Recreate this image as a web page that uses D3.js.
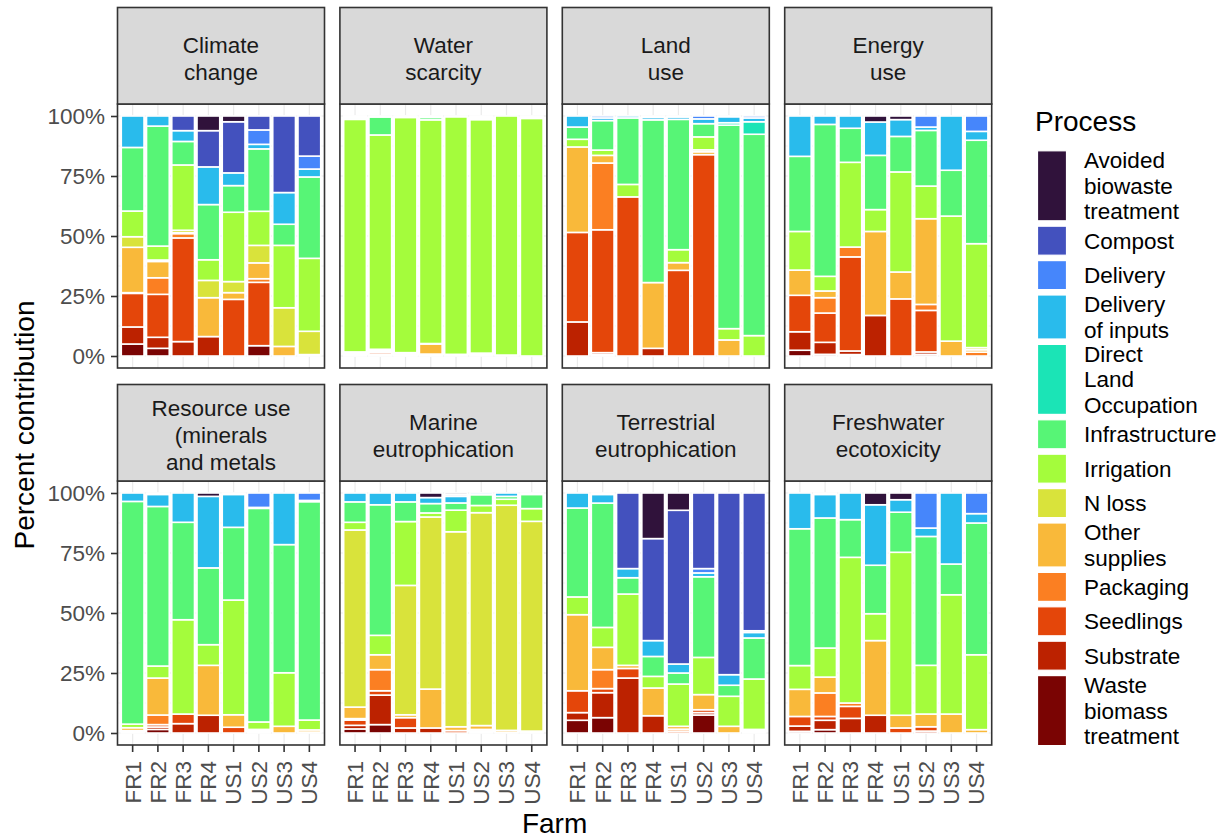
<!DOCTYPE html>
<html><head><meta charset="utf-8">
<script src="https://cdn.jsdelivr.net/npm/d3@7"></script>
<style>body{margin:0;background:#fff;} svg{display:block;font-family:"Liberation Sans",Arial,sans-serif;}</style>
</head><body><svg id="chart" width="1231" height="840"></svg>
<script>
// ---------------- data ----------------
const farms = ["FR1","FR2","FR3","FR4","US1","US2","US3","US4"];
const processes = ["Avoided biowaste treatment","Compost","Delivery","Delivery of inputs","Direct Land Occupation","Infrastructure","Irrigation","N loss","Other supplies","Packaging","Seedlings","Substrate","Waste biomass treatment"];
const processLabels = [["Avoided","biowaste","treatment"],["Compost"],["Delivery"],["Delivery","of inputs"],["Direct","Land","Occupation"],["Infrastructure"],["Irrigation"],["N loss"],["Other","supplies"],["Packaging"],["Seedlings"],["Substrate"],["Waste","biomass","treatment"]];
const processColors = ["#30123B","#4351BE","#4686FB","#29BBEC","#1BE4B6","#57F576","#A4FC3C","#D9E33B","#F9B93A","#FB7F22","#E4460A","#BC2200","#7A0403"];
const impacts = ["Climate change","Water scarcity","Land use","Energy use","Resource use (minerals and metals","Marine eutrophication","Terrestrial eutrophication","Freshwater ecotoxicity"];
const impactLabels = [["Climate","change"],["Water","scarcity"],["Land","use"],["Energy","use"],["Resource use","(minerals","and metals"],["Marine","eutrophication"],["Terrestrial","eutrophication"],["Freshwater","ecotoxicity"]];
const yTicks = [0, 0.25, 0.5, 0.75, 1];
const yTickLabels = ["0%","25%","50%","75%","100%"];
const yMinor = [0.125, 0.375, 0.625, 0.875];

// shares (%) per farm; columns from bottom of the bar to top:
// Waste biomass, Substrate, Seedlings, Packaging, Other supplies, N loss, Irrigation,
// Infrastructure, Direct Land Occ., Delivery of inputs, Delivery, Compost, Avoided biowaste
const climateChange = [
 [5,7.1,14,0.3,18.9,4.4,10.7,26.5,0,13.1,0,0,0],
 [3.2,4.6,17.9,6.9,6.8,0.6,5.8,50,0,4.2,0,0,0],
 [0,6,43.2,1.8,0.4,1.0,27.2,9.8,0,4.5,0,6.1,0],
 [0,8.1,0,0,16.2,7.2,8.6,23,0,15.7,0,15.1,6.1],
 [0,0,23.6,0,2.8,4.6,28.9,11.1,0,5.3,0,21.3,2.4],
 [4.3,0,26.4,1.5,6.6,7.3,14.2,26,0,1.9,6,5.8,0],
 [0,0,0,0,4,16.1,26,8.8,0,13.2,0,31.9,0],
 [0,0,0,0,0.6,9.7,30.4,33.9,0,3.3,5.4,16.7,0]
];
const waterScarcity = [
 [0.2,0.3,0.4,0.3,0.3,0.2,96.9,0.5,0,0.4,0.3,0.2,0],
 [0.2,0.4,0.8,0.4,0.5,0.5,89.3,7.5,0,0.4,0,0,0],
 [0.1,0.2,0.5,0.2,0.2,0.2,98,0.4,0,0.2,0,0,0],
 [0.2,0.3,0.3,0,4.2,0.2,93.2,1,0,0.4,0.2,0,0],
 [0,0,0.3,0,0.4,0,99,0.3,0,0,0,0,0],
 [0,0,0.6,0,0.3,0.3,97.3,0.4,0.6,0.5,0,0,0],
 [0,0,0,0,0.4,0,99.6,0,0,0,0,0,0],
 [0,0,0,0,0,0,99,0.5,0,0.5,0,0,0]
];
const landUse = [
 [0,14.2,37.3,0,35.6,0,3.2,5.1,0,4.6,0,0,0],
 [0.6,0.8,51.2,27.8,3.2,0,2.2,12.3,0,1.1,0.8,0,0],
 [0,0,66.3,0,0,0,5.2,27.7,0,0.8,0,0,0],
 [0,3.2,0,0,27.4,0,0,67.8,0,1.0,0.6,0,0],
 [0,0,35.7,0,3.2,0,5.4,54.3,0,1.0,0.4,0,0],
 [0,0,83.9,0,1.2,0.8,5.4,5.5,0,2.0,1.2,0,0],
 [0,0,0,0,6.7,0,4.7,84.8,1.0,2.5,0.3,0,0],
 [0,0,0,0,0,0,8.5,83.9,5.2,1.6,0.8,0,0]
];
const energyUse = [
 [2.4,7.7,15.2,0,10.5,0,16.1,31.3,0,16.8,0,0,0],
 [0.7,5,12.2,6.4,2.8,0,6.1,63.3,0,3.5,0,0,0],
 [0.6,1.5,39.2,4.1,0,0,35.3,14.2,0,5.1,0,0,0],
 [0,16.9,0,0,35,0,9.1,22.6,0,13.9,0,0,2.5],
 [0,0,23.8,0,11.2,0,41.7,14.8,0,7,0,0,1.5],
 [0.7,1,17.3,2.5,35.7,0,13.6,23.2,0,1.4,4.6,0,0],
 [0,0,0,0,6.2,0,52.1,19.1,0,22.6,0,0,0],
 [0,0,0,1.6,1.0,0.9,43.3,43.1,0,3.7,6.4,0,0]
];
const resourceUse = [
 [0,0.5,0.5,0,1.2,0,1.5,92.8,0,3.5,0,0,0],
 [1.5,1,1,4,15.4,0,5,66.5,0,5,0.6,0,0],
 [0,3.9,4,0,0,0,39.3,40.6,0,12.2,0,0,0],
 [0,7.4,0,0,20.8,0,8.6,32,0,29.8,0,0,1.4],
 [0,0,2.4,0,5.2,0,47.8,30.3,0,13.7,0.6,0,0],
 [0,0.5,0.5,0,0.5,0,3.1,89,0,0.4,6,0,0],
 [0,0,0,0,2.8,0,22.3,53.4,0,21.5,0,0,0],
 [0,0,0.4,0,0.9,0,4.1,91,0,0.5,3.1,0,0]
];
const marineEutrophication = [
 [1.7,1.5,2.2,0.6,4.8,73.8,3.2,8.5,0,3.7,0,0,0],
 [3.5,12.3,1.8,8.8,6.2,0,8.1,54.4,0,4.9,0,0,0],
 [0,2.1,4.3,0,1.2,53.9,26.6,8.2,0,3.7,0,0,0],
 [0,2.1,0,0,16.2,71.7,1.7,3.9,0,2.5,0,0,1.9],
 [0,0,1.0,0,1.6,81.25,9,3,0,2.75,0,0.7,0.7],
 [0,0.6,0.6,0.3,1.6,88.7,3,4.5,0,0.7,0,0,0],
 [0,0,0.3,0,0.8,93.8,2.5,1.2,0,1.4,0,0,0],
 [0,0,0.4,0,0.4,87.4,5.3,5.9,0,0.6,0,0,0]
];
const terrestrialEutrophication = [
 [5.3,3.2,9.1,0,31.7,0,7.4,37.05,0,6.25,0,0,0],
 [6.4,10.4,1.7,7.9,9.3,0,8.3,51.8,0,3.6,0.6,0,0],
 [0,22.9,4,0,1.3,0,29.7,6.8,0,3.8,0,31.5,0],
 [0,7.2,0,0,11.55,0,4.85,8.3,0,6.6,0,42.5,19],
 [0,0,0.8,0.8,1.2,0,17.6,4.6,0,3.75,0,64.05,7.2],
 [7.5,1,1.2,0,6.3,0,15.5,33.6,0,1.6,1.8,31.5,0],
 [0,0,0,0,2.8,0,12.5,4.6,0,4.4,0,75.7,0],
 [0,0,0.5,0,0.5,0.5,21,17.1,0,2.3,0.7,57.4,0]
];
const freshwaterEcotoxicity = [
 [0.7,2.2,4,0,11.3,0,9.9,57,0,14.9,0,0,0],
 [1.4,3.9,1.6,9.8,6.6,0,12.1,54.2,0,9.8,0.6,0,0],
 [0,6.1,5,1.4,0,0,60.7,15.7,0,11.1,0,0,0],
 [0,7.4,0,0,31.1,0,11.2,20.2,0,25.2,0,0,4.9],
 [0,0,2.1,0,5.3,0,67.9,16.7,0,5.2,0,0,2.8],
 [0,0.8,1.8,0,5.3,0,20.3,53.7,0,3.5,14.6,0,0],
 [0,0,0,0,7.9,0,49.7,12.8,0,29.6,0,0,0],
 [0,0,0,0,1.4,0,31.2,54.9,0,3.9,8.6,0,0]
];
const impactValues = [climateChange, waterScarcity, landUse, energyUse, resourceUse, marineEutrophication, terrestrialEutrophication, freshwaterEcotoxicity];

// ---------------- layout ----------------
const stackOrder = processes.slice().reverse();           // bottom → top
const color = d3.scaleOrdinal().domain(processes).range(processColors);
const svg = d3.select("#chart");
const panelLeft = 117.5, panelW = 207, panelPitch = 222.4;
const rowTop = 7.5, rowPitch = 377, stripH = 96.5, plotH = 264;
const smallFont = 22.5, bigFont = 28;
const borderCol = "#333333", gridCol = "#EBEBEB";

const stack = d3.stack().keys(stackOrder).offset(d3.stackOffsetExpand);

impacts.forEach((imp, k) => {
  const r = Math.floor(k / 4), c = k % 4;
  const x0 = panelLeft + c * panelPitch;
  const sTop = rowTop + r * rowPitch;
  const pTop = sTop + stripH;
  const pad = plotH / 1.1 * 0.05;
  const y = d3.scaleLinear().domain([0, 1]).range([pTop + plotH - pad, pTop + pad]);
  const x = d3.scaleBand().domain(farms).range([x0, x0 + panelW]).paddingInner(0.1).paddingOuter(0.15);
  const g = svg.append("g");

  // panel background + grid
  g.append("rect").attr("x", x0).attr("y", pTop).attr("width", panelW).attr("height", plotH).attr("fill", "#fff");
  g.selectAll("line.minor").data(yMinor).join("line")
    .attr("x1", x0).attr("x2", x0 + panelW).attr("y1", d => y(d)).attr("y2", d => y(d))
    .attr("stroke", gridCol).attr("stroke-width", 0.6);
  g.selectAll("line.majorY").data(yTicks).join("line")
    .attr("x1", x0).attr("x2", x0 + panelW).attr("y1", d => y(d)).attr("y2", d => y(d))
    .attr("stroke", gridCol).attr("stroke-width", 1.2);
  g.selectAll("line.majorX").data(farms).join("line")
    .attr("x1", d => x(d) + x.bandwidth() / 2).attr("x2", d => x(d) + x.bandwidth() / 2)
    .attr("y1", pTop).attr("y2", pTop + plotH)
    .attr("stroke", gridCol).attr("stroke-width", 1.2);

  // stacked bars
  const rows = farms.map((f, i) => {
    const o = { farm: f };
    stackOrder.forEach((p, j) => { o[p] = impactValues[k][i][j]; });
    return o;
  });
  const series = stack(rows);
  series.forEach(s => {
    g.append("g").selectAll("rect")
      .data(s.filter(d => d[1] - d[0] > 0))
      .join("rect")
      .attr("x", d => x(d.data.farm))
      .attr("width", x.bandwidth())
      .attr("y", d => y(d[1]))
      .attr("height", d => y(d[0]) - y(d[1]))
      .attr("fill", color(s.key))
      .attr("stroke", "#fff")
      .attr("stroke-width", 1.6);
  });

  // panel border
  g.append("rect").attr("x", x0).attr("y", pTop).attr("width", panelW).attr("height", plotH)
    .attr("fill", "none").attr("stroke", borderCol).attr("stroke-width", 1.6);

  // strip
  g.append("rect").attr("x", x0).attr("y", sTop).attr("width", panelW).attr("height", stripH)
    .attr("fill", "#D9D9D9").attr("stroke", borderCol).attr("stroke-width", 1.6);
  const lines = impactLabels[k];
  const lh = 27, cy = sTop + stripH / 2;
  lines.forEach((t, i) => {
    g.append("text").attr("x", x0 + panelW / 2)
      .attr("y", cy + (i - (lines.length - 1) / 2) * lh + 10.5)
      .attr("text-anchor", "middle").attr("font-size", smallFont).attr("fill", "#1A1A1A").text(t);
  });

  // y axis on left column
  if (c === 0) {
    const ax = svg.append("g").attr("transform", `translate(${x0},0)`)
      .call(d3.axisLeft(y).tickValues(yTicks).tickFormat((d, i) => yTickLabels[i]).tickSize(6.5).tickPadding(6));
    ax.select(".domain").remove();
    ax.selectAll(".tick line").attr("stroke", borderCol).attr("stroke-width", 1.6);
    ax.selectAll(".tick text").attr("font-size", smallFont).attr("fill", "#4D4D4D")
      .attr("font-family", "Liberation Sans, Arial, sans-serif");
  }
  // x axis on bottom row
  if (r === 1) {
    const ax = svg.append("g").attr("transform", `translate(0,${pTop + plotH})`)
      .call(d3.axisBottom(x).tickSize(7).tickPadding(6));
    ax.select(".domain").remove();
    ax.selectAll(".tick line").attr("stroke", borderCol).attr("stroke-width", 1.6);
    ax.selectAll(".tick text").attr("font-size", smallFont).attr("fill", "#4D4D4D")
      .attr("font-family", "Liberation Sans, Arial, sans-serif")
      .attr("transform", "rotate(-90)").attr("text-anchor", "end")
      .attr("x", -16).attr("y", 0).attr("dy", "0.35em");
  }
});

// axis titles
svg.append("text").attr("x", panelLeft + (3 * panelPitch + panelW) / 2).attr("y", 833)
  .attr("text-anchor", "middle").attr("font-size", bigFont).attr("fill", "#000").text("Farm");
svg.append("text").attr("transform", "translate(34,425) rotate(-90)")
  .attr("text-anchor", "middle").attr("font-size", bigFont).attr("fill", "#000").text("Percent contribution");

// legend
const lg = svg.append("g");
lg.append("text").attr("x", 1035).attr("y", 131).attr("font-size", bigFont).attr("fill", "#000").text("Process");
const keyH = [0, 29, 44, 70];
let ky = 150.8;
processes.forEach((p, i) => {
  const lines = processLabels[i];
  const h = keyH[lines.length];
  lg.append("rect").attr("x", 1037.5).attr("y", ky).attr("width", 29).attr("height", h)
    .attr("fill", color(p)).attr("stroke", "#fff").attr("stroke-width", 1.2);
  const cy = ky + h / 2;
  lines.forEach((t, j) => {
    lg.append("text").attr("x", 1084).attr("y", cy + (j - (lines.length - 1) / 2) * 25.5 + 8)
      .attr("font-size", smallFont).attr("fill", "#000").text(t);
  });
  ky += h + 5.4;
});
</script></body></html>
